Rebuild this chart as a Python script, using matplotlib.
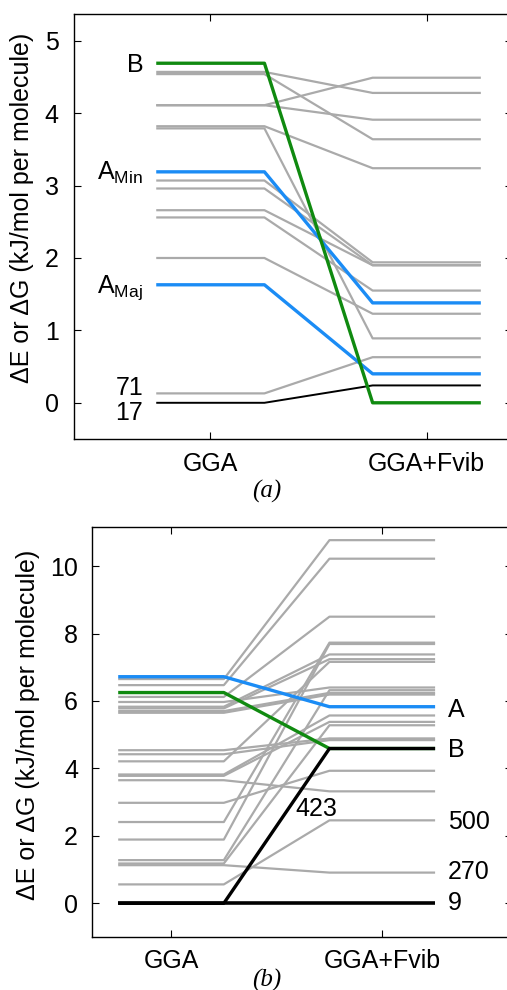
import numpy as np
import matplotlib
matplotlib.use("Agg")
import matplotlib.pyplot as plt

plt.rcParams['font.family'] = ['Liberation Sans', 'DejaVu Sans']
plt.rcParams['mathtext.fontset'] = 'custom'
plt.rcParams['mathtext.rm'] = 'Liberation Sans'
plt.rcParams['mathtext.it'] = 'Liberation Sans:italic'

# ---- panel (a) data : (GGA, GGA+Fvib) in kJ/mol per molecule
a_gray_gga  = [4.57, 4.54, 4.11, 4.11, 3.82, 3.79, 3.07, 2.96, 2.66, 2.56, 2.00, 0.13]
a_gray_fvib = [4.28, 3.64, 4.49, 3.91, 3.24, 0.89, 1.94, 1.90, 1.90, 1.55, 1.23, 0.63]
a_blue_gga  = [3.19, 1.63]          # A_Min, A_Maj
a_blue_fvib = [1.38, 0.40]
a_green     = [4.69, 0.00]          # B
a_black     = [0.00, 0.24]          # 17

# ---- panel (b) data
b_gray_gga  = [6.65, 6.47, 6.12, 5.97, 5.83, 5.78, 5.70, 5.65, 4.54, 4.42, 4.21,
               3.82, 3.78, 3.65, 2.98, 2.41, 1.89, 1.28, 1.18, 1.13, 0.56]
b_gray_fvib = [10.77, 10.22, 8.50, 6.40, 7.38, 7.24, 6.24, 6.19, 4.89, 4.84, 7.16,
               5.57, 5.38, 3.32, 3.93, 7.73, 7.69, 6.32, 5.28, 0.91, 2.46]
b_blue      = [6.72, 5.83]          # A
b_green     = [6.25, 4.59]          # B
b_black1    = [0.00, 4.59]          # 423
b_black2    = [0.00, 0.00]          # 9

methods = ['GGA', 'GGA+Fvib']
ylabel = '\u0394E or \u0394G (kJ/mol per molecule)'

GRAY = '#aaaaaa'
BLUE = '#1b8cf5'
GREEN = '#108a10'
FS = 18


def level(ax, e0, e1, color, lw, z=2):
    # flat at GGA, slope, flat at GGA+Fvib
    xs = [0.75, 1.25, 1.75, 2.25]
    ys = [e0, e0, e1, e1]
    ax.plot(xs, ys, color=color, lw=lw, zorder=z, solid_capstyle='butt')


def style(ax, yt, xpad, ypad):
    ax.set_xticks([1, 2])
    ax.set_xticklabels(methods)
    ax.set_yticks(yt)
    ax.tick_params(direction='in', top=True, right=True, length=5, width=0.8,
                   labelsize=FS)
    ax.tick_params(axis='x', pad=xpad)
    ax.tick_params(axis='y', pad=ypad)
    for s in ax.spines.values():
        s.set_linewidth(1.0)


fig = plt.figure(figsize=(5.07, 9.90), dpi=100)

# panel (a)
ax1 = fig.add_axes([74/507, 1-439/990, 438/507, 425/990])
for g, f in zip(a_gray_gga, a_gray_fvib):
    level(ax1, g, f, GRAY, 1.6, 1)
level(ax1, a_black[0], a_black[1], 'black', 1.4, 3)
for g, f in zip(a_blue_gga, a_blue_fvib):
    level(ax1, g, f, BLUE, 2.4, 4)
level(ax1, a_green[0], a_green[1], GREEN, 2.4, 5)
ax1.set_xlim(0.37, 2.394)
ax1.set_ylim(-0.5, 5.37)
style(ax1, range(0, 6), 9, 11)

ax1.text(0.69, 4.57, 'B', ha='right', va='baseline', fontsize=FS)
ax1.text(0.69, 3.08, r'A$_\mathregular{Min}$', ha='right', va='baseline', fontsize=FS)
ax1.text(0.69, 1.52, r'A$_\mathregular{Maj}$', ha='right', va='baseline', fontsize=FS)
ax1.text(0.69, 0.21, '71', ha='right', va='center', fontsize=FS)
ax1.text(0.69, -0.145, '17', ha='right', va='center', fontsize=FS)

# panel (b)
ax2 = fig.add_axes([92/507, 1-937/990, 420/507, 410/990])
for g, f in zip(b_gray_gga, b_gray_fvib):
    level(ax2, g, f, GRAY, 1.6, 1)
level(ax2, b_blue[0], b_blue[1], BLUE, 2.4, 4)
level(ax2, b_green[0], b_green[1], GREEN, 2.4, 5)
level(ax2, b_black1[0], b_black1[1], 'black', 2.4, 6)
level(ax2, b_black2[0], b_black2[1], 'black', 2.6, 6)
ax2.set_xlim(0.626, 2.614)
ax2.set_ylim(-1.0, 11.16)
style(ax2, range(0, 11, 2), 9, 10)

ax2.text(2.31, 5.74, 'A', ha='left', va='center', fontsize=FS)
ax2.text(2.31, 4.56, 'B', ha='left', va='center', fontsize=FS)
ax2.text(2.31, 2.42, '500', ha='left', va='center', fontsize=FS)
ax2.text(2.31, 0.92, '270', ha='left', va='center', fontsize=FS)
ax2.text(2.31, 0.0, '9', ha='left', va='center', fontsize=FS)
ax2.text(1.59, 2.80, '423', ha='left', va='center', fontsize=FS)

fig.text(22/507, 1-208/990, ylabel, rotation=90, ha='center', va='center', fontsize=FS)
fig.text(28/507, 1-725/990, ylabel, rotation=90, ha='center', va='center', fontsize=FS)

fig.text(267/507, 1-491/990, '(a)', ha='center', va='center', fontsize=18,
         family='Liberation Serif', style='italic')
fig.text(267/507, 1-980/990, '(b)', ha='center', va='center', fontsize=18,
         family='Liberation Serif', style='italic')

fig.savefig('out.png', dpi=100)
